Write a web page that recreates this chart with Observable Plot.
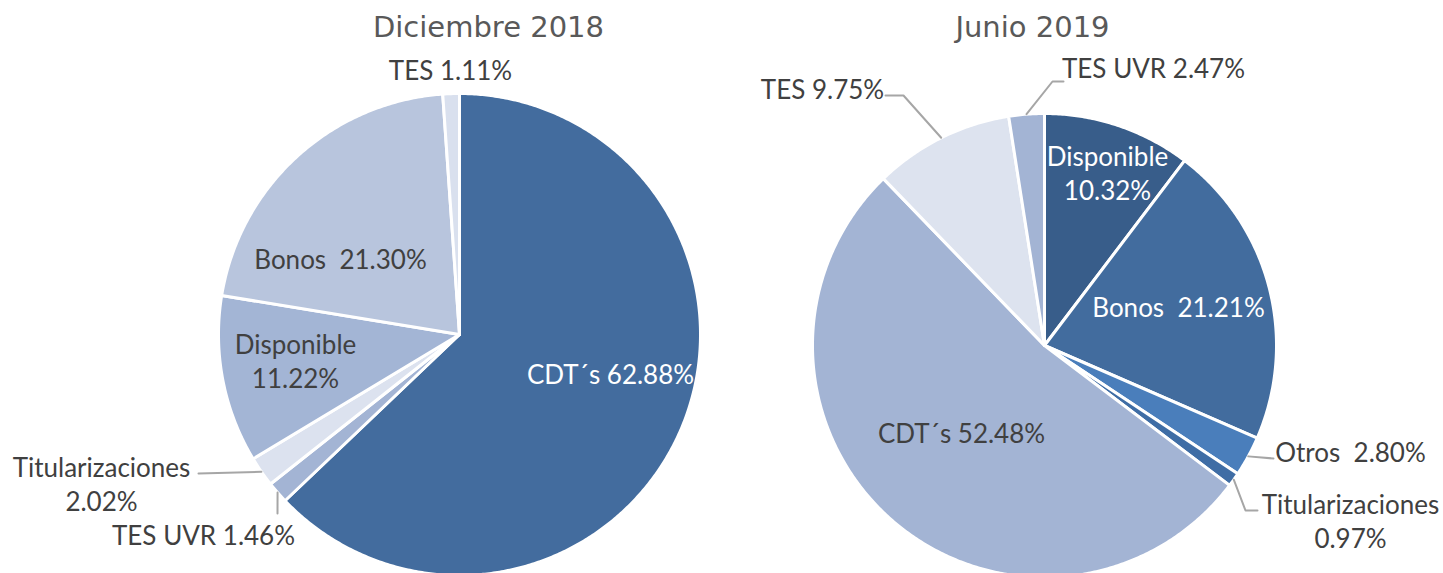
<!DOCTYPE html>
<html><head><meta charset="utf-8">
<script src="https://cdn.jsdelivr.net/npm/d3@7"></script>
<script src="https://cdn.jsdelivr.net/npm/@observablehq/plot@0.6"></script>
<style>body{margin:0;background:#fff}#chart svg{display:block}</style>
</head><body><div id="chart"></div>
<script>
// ---- data ----
const titles = ["Diciembre 2018", "Junio 2019"];
const decCategories = ["CDT´s", "TES UVR", "Titularizaciones", "Disponible", "Bonos", "TES"];
const decValues = [62.88, 1.46, 2.02, 11.22, 21.30, 1.11];
const junCategories = ["Disponible", "Bonos", "Otros", "Titularizaciones", "CDT´s", "TES", "TES UVR"];
const junValues = [10.32, 21.21, 2.80, 0.97, 52.48, 9.75, 2.47];
const decColors = ["#436C9E", "#A3B4D4", "#DCE2EF", "#A3B5D5", "#B8C5DD", "#D9E0EE"];
const junColors = ["#385D8A", "#426C9E", "#4A7EBB", "#3F6DA5", "#A3B4D4", "#DDE3EF", "#A3B4D4"];

// ---- layout ----
const W = 1443, H = 573;
const DARK = "#404040", WHITE = "#FFFFFF";
const decLayout = {
  "CDT´s": {x: 610, y: 373, sep: " ", fill: WHITE},
  "TES UVR": {x: 203, y: 534, sep: " ", fill: DARK, leader: [[277, 513]]},
  "Titularizaciones": {x: 101, y: 483, sep: "\n", fill: DARK, leader: [[198, 473]]},
  "Disponible": {x: 295, y: 360, sep: "\n", fill: DARK},
  "Bonos": {x: 340, y: 258, sep: "  ", fill: DARK},
  "TES": {x: 450, y: 69, sep: " ", fill: DARK}
};
const junLayout = {
  "Disponible": {x: 1107, y: 172, sep: "\n", fill: WHITE},
  "Bonos": {x: 1178, y: 306, sep: "  ", fill: WHITE},
  "Otros": {x: 1350, y: 451, sep: "  ", fill: DARK, leader: [[1273, 458]]},
  "Titularizaciones": {x: 1350, y: 520, sep: "\n", fill: DARK, leader: [[1245, 510], [1257, 510]]},
  "CDT´s": {x: 961, y: 432, sep: " ", fill: DARK},
  "TES": {x: 822, y: 88, sep: " ", fill: DARK, leader: [[903, 95], [885, 95]]},
  "TES UVR": {x: 1153, y: 67, sep: " ", fill: DARK, leader: [[1052, 81], [1063, 81]]}
};
const pies = [
  {id: "dec", title: titles[0], cats: decCategories, vals: decValues, colors: decColors, layout: decLayout, cx: 459, cy: 334, r: 241, titleX: 488},
  {id: "jun", title: titles[1], cats: junCategories, vals: junValues, colors: junColors, layout: junLayout, cx: 1044, cy: 345, r: 232, titleX: 1032}
];

const slicePts = [], labelRows = [], leaderPts = [], titleRows = [];
for (const p of pies) {
  const total = d3.sum(p.vals);
  let acc = 0;
  titleRows.push({x: p.titleX, y: 27, text: p.title});
  p.cats.forEach((c, i) => {
    const a0 = acc / total * 2 * Math.PI;
    acc += p.vals[i];
    const a1 = acc / total * 2 * Math.PI;
    const key = p.id + i;
    const color = p.colors[i];
    slicePts.push({key, color, x: p.cx, y: p.cy});
    const n = Math.max(2, Math.ceil((a1 - a0) / (Math.PI / 360)));
    for (let k = 0; k <= n; k++) {
      const a = a0 + (a1 - a0) * k / n;
      slicePts.push({key, color, x: p.cx + p.r * Math.sin(a), y: p.cy - p.r * Math.cos(a)});
    }
    slicePts.push({key, color, x: p.cx, y: p.cy});
    const L = p.layout[c];
    labelRows.push({x: L.x, y: L.y, fill: L.fill, text: c + L.sep + p.vals[i].toFixed(2) + "%"});
    if (L.leader) {
      const am = (a0 + a1) / 2;
      leaderPts.push({key, x: p.cx + p.r * Math.sin(am), y: p.cy - p.r * Math.cos(am)});
      for (const [lx, ly] of L.leader) leaderPts.push({key, x: lx, y: ly});
    }
  });
}

const chart = Plot.plot({
  width: W, height: H, margin: 0,
  x: {domain: [0, W], range: [0, W], axis: null},
  y: {domain: [0, H], range: [0, H], axis: null},
  color: {type: "identity"},
  style: {background: "white"},
  marks: [
    Plot.line(slicePts, {x: "x", y: "y", z: "key", fill: "color", stroke: "white", strokeWidth: 3, strokeLinejoin: "round", curve: "linear"}),
    Plot.line(leaderPts, {x: "x", y: "y", z: "key", stroke: "#A6A6A6", strokeWidth: 2, curve: "linear"}),
    Plot.text(labelRows, {x: "x", y: "y", text: "text", fill: "fill", fontSize: 26, fontFamily: "Lato", textAnchor: "middle", lineAnchor: "middle", lineHeight: 1.3}),
    Plot.text(titleRows, {x: "x", y: "y", text: "text", fill: "#595959", fontSize: 29, fontFamily: "DejaVu Sans", textAnchor: "middle", lineAnchor: "middle"})
  ]
});
document.getElementById("chart").append(chart);
</script>
</body></html>
